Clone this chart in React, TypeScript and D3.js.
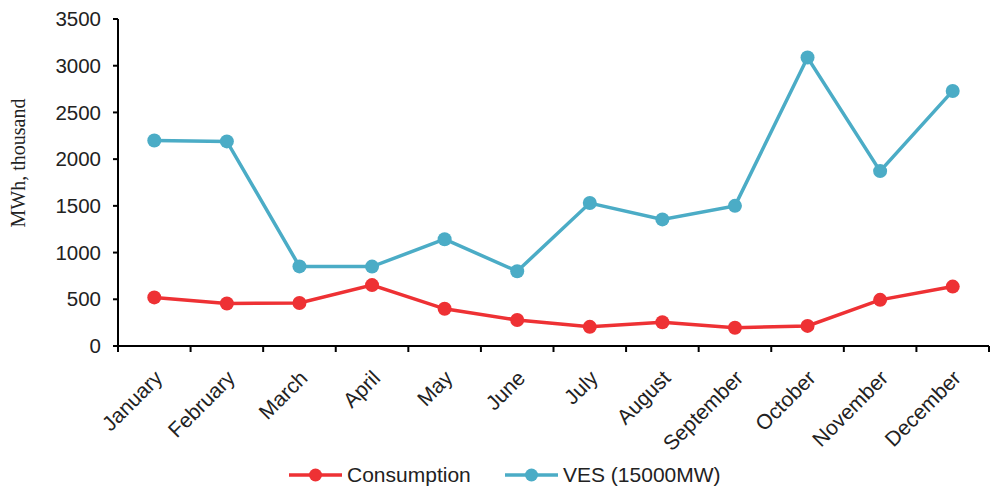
import React from "react";
import * as d3 from "d3";

const months = ["January","February","March","April","May","June","July","August","September","October","November","December"];
const consumption = [520, 455, 460, 652, 398, 278, 205, 255, 196, 215, 494, 636];
const ves = [2200, 2190, 852, 850, 1143, 800, 1530, 1355, 1500, 3088, 1872, 2730];
const yTicks = [0, 500, 1000, 1500, 2000, 2500, 3000, 3500];
const seriesNames = ["Consumption", "VES (15000MW)"];
const seriesColors = ["#EE3134", "#4BACC6"];

export default function App() {
  const W = 993, H = 490;
  const left = 118, right = 989, top = 19, bottom = 346;
  const x = d3.scaleBand<string>().domain(months).range([left, right]);
  const y = d3.scaleLinear().domain([0, 3500]).range([bottom, top]);
  const cx = (m: string) => (x(m) as number) + x.bandwidth() / 2;
  const line = d3.line<number>().x((_, i) => cx(months[i])).y((d) => y(d));
  const data = [consumption, ves];
  const font = "'Liberation Sans', Arial, sans-serif";
  return (
    <svg width={W} height={H} style={{ position: "absolute", left: 0, top: 0, background: "#fff" }}>
      <rect width={W} height={H} fill="#fff" />
      {/* y axis */}
      <line x1={left} x2={left} y1={top} y2={bottom} stroke="#000" strokeWidth={2} />
      {yTicks.map((t) => (
        <g key={t}>
          <line x1={left - 5} x2={left} y1={y(t)} y2={y(t)} stroke="#000" strokeWidth={2} />
          <text x={left - 17} y={y(t)} dy="0.35em" textAnchor="end" fontFamily={font} fontSize={20.5} fill="#222">{t}</text>
        </g>
      ))}
      {/* x axis */}
      <line x1={left - 5} x2={right} y1={bottom} y2={bottom} stroke="#000" strokeWidth={2} />
      {months.map((m) => (
        <line key={"t" + m} x1={x(m) as number} x2={x(m) as number} y1={bottom} y2={bottom + 6} stroke="#000" strokeWidth={2} />
      ))}
      <line x1={right} x2={right} y1={bottom} y2={bottom + 6} stroke="#000" strokeWidth={2} />
      {months.map((m) => (
        <text key={"l" + m} transform={`translate(${cx(m) - 1},${bottom + 23}) rotate(-45)`} textAnchor="end" dy="0.7em" fontFamily={font} fontSize={21} fill="#222">{m}</text>
      ))}
      <text transform={`translate(25,163) rotate(-90)`} textAnchor="middle" fontFamily="'Liberation Serif', 'Times New Roman', serif" fontSize={20} fill="#222">MWh, thousand</text>
      {/* series */}
      {data.map((s, si) => (
        <g key={si}>
          <path d={line(s) as string} fill="none" stroke={seriesColors[si]} strokeWidth={3.5} />
          {s.map((v, i) => (
            <circle key={i} cx={cx(months[i])} cy={y(v)} r={7} fill={seriesColors[si]} />
          ))}
        </g>
      ))}
      {/* legend */}
      {seriesNames.map((n, i) => {
        const lx = [289, 505][i];
        return (
          <g key={n}>
            <line x1={lx} x2={lx + 53} y1={475} y2={475} stroke={seriesColors[i]} strokeWidth={3.5} />
            <circle cx={lx + 26.5} cy={475} r={6.5} fill={seriesColors[i]} />
            <text x={lx + 58} y={475} dy="0.35em" fontFamily={font} fontSize={21} fill="#222">{n}</text>
          </g>
        );
      })}
    </svg>
  );
}
